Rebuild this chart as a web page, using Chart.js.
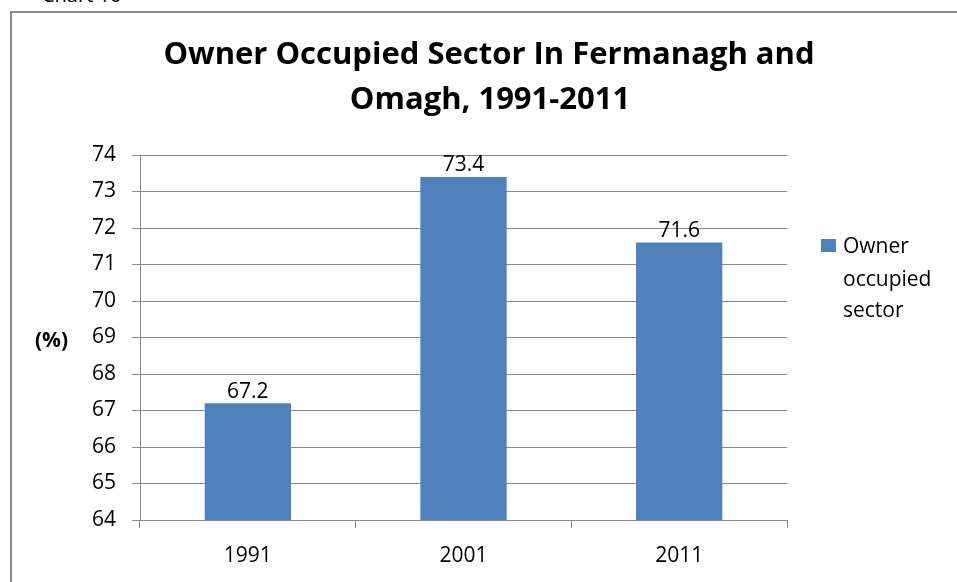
<!DOCTYPE html>
<html>
<head>
<meta charset="utf-8">
<script src="https://cdn.jsdelivr.net/npm/chart.js@4"></script>
<style>
  html, body { margin: 0; padding: 0; background: #fff; overflow: hidden; }
  body { width: 957px; height: 582px; position: relative; font-family: "Open Sans", sans-serif; color: #000; }
  #caption { position: absolute; left: 42px; top: -17px; font-size: 20px; line-height: 24px; }
  #frame { position: absolute; left: 10px; top: 11px; width: 1000px; height: 640px; border: 2px solid #8a8a8a; }
  #wrap { position: absolute; left: 0; top: 0; width: 957px; height: 582px; }
  .title { position: absolute; width: 1000px; text-align: center; font-size: 31px; line-height: 31px; font-weight: bold; white-space: nowrap; }
  #yUnit { position: absolute; left: 35px; top: 329px; font-size: 21px; line-height: 21px; font-weight: bold; }
  .leg { position: absolute; left: 843px; font-size: 21px; line-height: 32px; white-space: nowrap; }
  #legBox { position: absolute; left: 821px; top: 239px; width: 15px; height: 13px; background: #4f81bd; }
</style>
</head>
<body>
<div id="caption">Chart 10</div>
<div id="frame"></div>
<div id="wrap"><canvas id="chart"></canvas></div>
<div class="title" style="left: -11px; top: 37px;">Owner Occupied Sector In Fermanagh and</div>
<div class="title" style="left: -10px; top: 82px;">Omagh, 1991-2011</div>
<div id="yUnit">(%)</div>
<div id="legBox"></div>
<div class="leg" style="top: 229px;">Owner</div>
<div class="leg" style="top: 262px;">occupied</div>
<div class="leg" style="top: 293px;">sector</div>
<script>
const years = ["1991", "2001", "2011"];
const ownerOccupied = [67.2, 73.4, 71.6];
const seriesName = "Owner occupied sector";

const gridGray = "#8a8a8a";

// draws the value above each bar
const valueLabels = {
  id: "valueLabels",
  afterDatasetsDraw(chart) {
    const ctx = chart.ctx;
    const meta = chart.getDatasetMeta(0);
    ctx.save();
    ctx.font = '21px "Open Sans"';
    ctx.fillStyle = "#000";
    ctx.textAlign = "center";
    ctx.textBaseline = "bottom";
    meta.data.forEach((bar, i) => {
      ctx.fillText(String(ownerOccupied[i]), bar.x, bar.y - 1);
    });
    ctx.restore();
  },
};

const ctx = document.getElementById("chart").getContext("2d");

const chart = new Chart(ctx, {
  type: "bar",
  data: {
    labels: years,
    datasets: [
      {
        label: seriesName,
        data: ownerOccupied,
        backgroundColor: "#4f81bd",
        barPercentage: 0.4,
        categoryPercentage: 1.0,
      },
    ],
  },
  options: {
    responsive: true,
    maintainAspectRatio: false,
    animation: false,
    layout: { padding: { left: 0, right: 170, top: 155, bottom: 0 } },
    plugins: {
      legend: { display: false },
      tooltip: { enabled: false },
    },
    scales: {
      x: {
        afterFit(scale) { scale.height = 62; },
        grid: { drawOnChartArea: false, offset: true, tickLength: 8, color: gridGray },
        border: { display: false },
        ticks: { color: "#000", font: { family: "Open Sans", size: 21 }, padding: 15 },
      },
      y: {
        min: 64,
        max: 74,
        afterFit(scale) { scale.width = 140; },
        grid: { color: gridGray, tickLength: 8 },
        border: { color: gridGray, width: 1 },
        ticks: { stepSize: 1, color: "#000", font: { family: "Open Sans", size: 21 }, padding: 16 },
      },
    },
  },
  plugins: [valueLabels],
});
</script>
</body>
</html>
